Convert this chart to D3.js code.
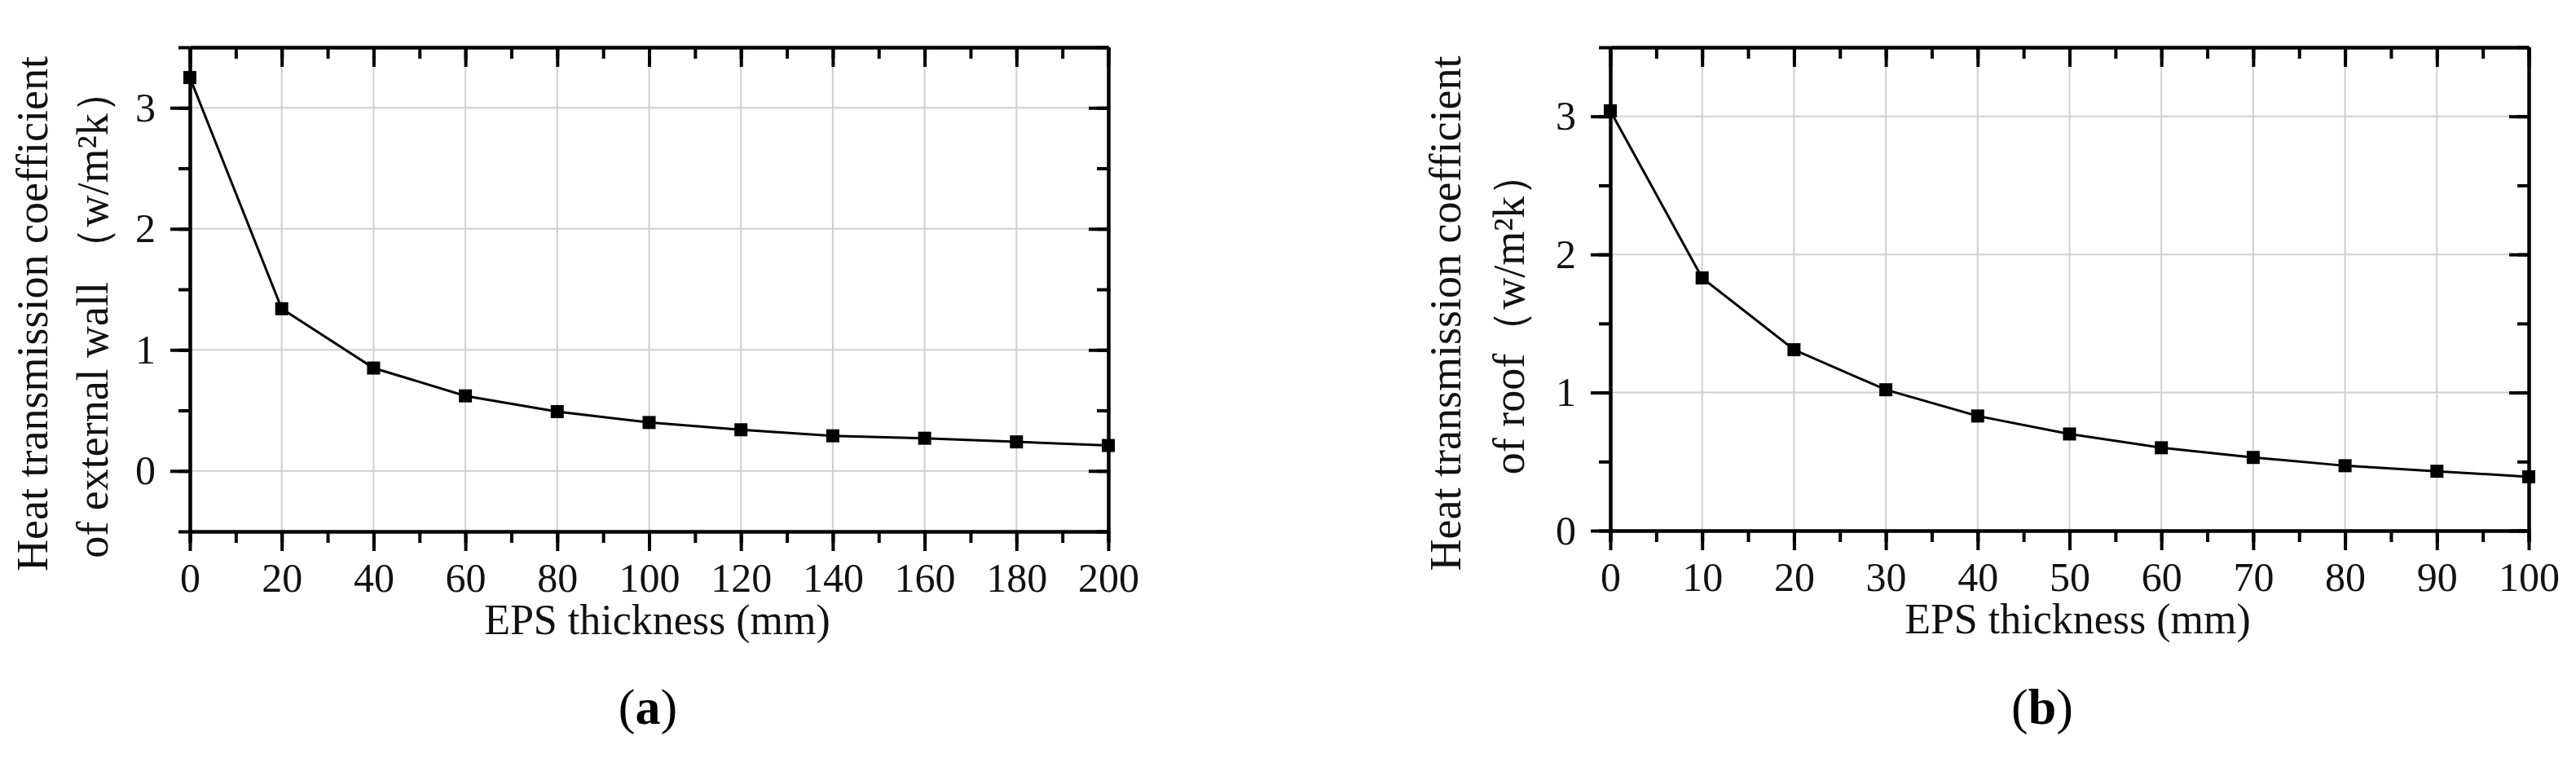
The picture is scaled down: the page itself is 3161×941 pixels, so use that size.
<!DOCTYPE html>
<html><head><meta charset="utf-8">
<script src="https://cdn.jsdelivr.net/npm/d3@7"></script>
<style>body{margin:0;background:#fff}text{font-family:"Liberation Serif","DejaVu Serif",serif}</style>
</head><body><svg id="chart" width="3161" height="941"></svg>
<script>
// data
const wallThickness = [0, 20, 40, 60, 80, 100, 120, 140, 160, 180, 200];
const wallU = [3.25, 1.34, 0.85, 0.62, 0.49, 0.40, 0.34, 0.29, 0.27, 0.24, 0.21];
const roofThickness = [0, 10, 20, 30, 40, 50, 60, 70, 80, 90, 100];
const roofU = [3.04, 1.83, 1.31, 1.02, 0.83, 0.70, 0.60, 0.53, 0.47, 0.43, 0.39];
const wallXTicks = [0, 20, 40, 60, 80, 100, 120, 140, 160, 180, 200];
const roofXTicks = [0, 10, 20, 30, 40, 50, 60, 70, 80, 90, 100];
const yTicks = [0, 1, 2, 3];

const svg = d3.select("#chart");

const drawPanel = function (cfg) {
    const x = d3.scaleLinear().domain(cfg.xDomain).range([cfg.left, cfg.right]);
    const y = d3.scaleLinear().domain(cfg.yDomain).range([cfg.bottom, cfg.top]);
    const g = svg.append("g");

    // grid
    g.append("g").selectAll("line").data(cfg.xTicks).join("line")
        .attr("x1", d => x(d)).attr("x2", d => x(d))
        .attr("y1", cfg.top).attr("y2", cfg.bottom)
        .attr("stroke", "#cfcfd4").attr("stroke-width", 2);
    g.append("g").selectAll("line").data(yTicks).join("line")
        .attr("x1", cfg.left).attr("x2", cfg.right)
        .attr("y1", d => y(d)).attr("y2", d => y(d))
        .attr("stroke", "#cfcfd4").attr("stroke-width", 2);

    const styleAxis = function (sel) {
        sel.select(".domain").attr("stroke-width", 4);
        sel.selectAll(".tick line").attr("stroke-width", 4);
        sel.selectAll("text").attr("font-size", 50).attr("fill", "#111");
    };
    const minorX = d3.range(cfg.xDomain[0], cfg.xDomain[1] + 0.001, cfg.xMinor);
    const minorY = d3.range(cfg.yDomain[0], cfg.yDomain[1] + 0.001, 0.5);
    const fmt = d3.format("d");

    // bottom axis
    g.append("g").attr("transform", `translate(0,${cfg.bottom})`)
        .call(d3.axisBottom(x).tickValues(minorX).tickSize(14).tickFormat(""))
        .call(styleAxis);
    g.append("g").attr("transform", `translate(0,${cfg.bottom})`)
        .call(d3.axisBottom(x).tickValues(cfg.xTicks).tickSize(24).tickPadding(14).tickSizeOuter(0).tickFormat(fmt))
        .call(styleAxis);
    // top axis (inward)
    g.append("g").attr("transform", `translate(0,${cfg.top})`)
        .call(d3.axisBottom(x).tickValues(minorX).tickSize(14).tickFormat("").tickSizeOuter(0))
        .call(styleAxis);
    g.append("g").attr("transform", `translate(0,${cfg.top})`)
        .call(d3.axisBottom(x).tickValues(cfg.xTicks).tickSize(24).tickFormat("").tickSizeOuter(0))
        .call(styleAxis);
    // left axis
    g.append("g").attr("transform", `translate(${cfg.left},0)`)
        .call(d3.axisLeft(y).tickValues(minorY).tickSize(14).tickFormat("").tickSizeOuter(0))
        .call(styleAxis);
    g.append("g").attr("transform", `translate(${cfg.left},0)`)
        .call(d3.axisLeft(y).tickValues(yTicks).tickSize(24).tickPadding(18).tickSizeOuter(0).tickFormat(fmt))
        .call(styleAxis);
    // right axis (inward)
    g.append("g").attr("transform", `translate(${cfg.right},0)`)
        .call(d3.axisLeft(y).tickValues(minorY).tickSize(14).tickFormat("").tickSizeOuter(0))
        .call(styleAxis);
    g.append("g").attr("transform", `translate(${cfg.right},0)`)
        .call(d3.axisLeft(y).tickValues(yTicks).tickSize(24).tickFormat("").tickSizeOuter(0))
        .call(styleAxis);

    // line + markers
    const pts = cfg.xs.map((d, i) => [d, cfg.ys[i]]);
    g.append("path").datum(pts)
        .attr("fill", "none").attr("stroke", "#000").attr("stroke-width", 3)
        .attr("d", d3.line().x(d => x(d[0])).y(d => y(d[1])));
    g.append("g").selectAll("rect").data(pts).join("rect")
        .attr("x", d => x(d[0]) - 8).attr("y", d => y(d[1]) - 8)
        .attr("width", 16).attr("height", 16).attr("fill", "#000");

    // axis titles
    g.append("text").attr("x", (cfg.left + cfg.right) / 2 + 10).attr("y", cfg.bottom + 126)
        .attr("text-anchor", "middle").attr("font-size", 52).attr("fill", "#111")
        .text("EPS thickness (mm)");
    cfg.yTitle.forEach((t, i) => {
        g.append("text")
            .attr("transform", `translate(${cfg.titleX[i]},${(cfg.top + cfg.bottom) / 2 + 30}) rotate(-90)`)
            .attr("text-anchor", "middle").attr("font-size", 54).attr("fill", "#111")
            .text(t);
    });
    g.append("text").attr("x", cfg.labelX).attr("y", 888)
        .attr("text-anchor", "middle").attr("font-size", 62).attr("fill", "#000")
        .html(`(<tspan font-weight="bold">${cfg.label}</tspan>)`);
};

drawPanel({
    xs: wallThickness, ys: wallU, xTicks: wallXTicks, xMinor: 10,
    xDomain: [0, 200], yDomain: [-0.5, 3.5],
    left: 233, right: 1360, top: 58, bottom: 652,
    yTitle: ["Heat transmission coefficient", "of external wall （w/m²k）"],
    titleX: [58, 132], label: "a", labelX: 795
});
drawPanel({
    xs: roofThickness, ys: roofU, xTicks: roofXTicks, xMinor: 5,
    xDomain: [0, 100], yDomain: [0, 3.5],
    left: 1976, right: 3103, top: 58, bottom: 651,
    yTitle: ["Heat transmission coefficient", "of roof（w/m²k）"],
    titleX: [1792, 1870], label: "b", labelX: 2506
});
</script></body></html>
